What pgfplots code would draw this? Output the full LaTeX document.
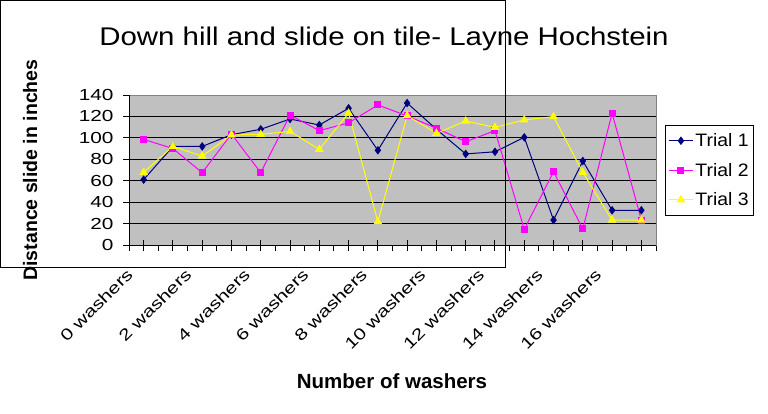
\documentclass[border=0pt]{standalone}
\usepackage{pgfplots}
\pgfplotsset{compat=1.18}
\usepackage{pgfplotstable}
\usepackage{fontspec}
\setmainfont{Liberation Sans}
\newfontfamily\tickfont{Liberation Sans}[FakeStretch=1.3]
\newfontfamily\titlefont{Liberation Sans}[FakeStretch=1.15]
\newfontfamily\legfont{Liberation Sans}[FakeStretch=1.08]
\definecolor{plotgray}{RGB}{192,192,192}
\definecolor{navyc}{RGB}{0,0,128}
\definecolor{magc}{RGB}{255,0,255}
\definecolor{yelc}{RGB}{255,255,0}
\definecolor{framegray}{RGB}{128,128,128}

\pgfplotstableread{
x t1 t2 t3
0 61 98.6 67.8
1 92 90 92
2 92 67.5 83
3 103 103.6 102.7
4 108 67.5 103.3
5 117.6 121.3 106
6 112 106.7 89.3
7 127.6 114 123
8 88.4 130.7 21.8
9 132.5 120.5 120.7
10 108 109 104.2
11 85 96.4 115.7
12 87 106.7 109.8
13 100.5 14.6 116.7
14 23.3 68.4 119.8
15 78.4 15 67.8
16 32.4 123 23.3
17 32.4 23.3 23.3
}\datatable

\begin{document}
\begin{tikzpicture}[x=1bp,y=1bp]
\path[use as bounding box] (0,0) rectangle (768,413);
\begin{axis}[
  at={(129bp,168bp)}, anchor=south west,
  width=527bp, height=150bp, scale only axis,
  xmin=-0.5, xmax=17.5, ymin=0, ymax=140,
  axis background/.style={fill=plotgray},
  axis line style={draw=framegray, line width=1bp},
  ytick={0,20,...,120},
  extra y ticks={140},
  extra y tick style={grid=none},
  ymajorgrids,
  grid style={black, line width=1bp},
  tick style={black, line width=1bp},
  major tick length=6bp,
  tick align=outside,
  xtick pos=bottom, ytick pos=left,
  xtick={-0.5,0.5,...,17.5}, xticklabels={},
  extra x ticks={0,1,...,17},
  extra x tick labels={0 washers,,2 washers,,4 washers,,6 washers,,8 washers,,10 washers,,12 washers,,14 washers,,16 washers,},
  extra x tick style={major tick length=11bp, tick align=center, grid=none},
  /pgf/number format/assume math mode=true,
  yticklabel style={font=\tickfont\fontsize{16bp}{19bp}\selectfont, anchor=east, xshift=-6bp},
  xticklabel style={font=\tickfont\fontsize{16bp}{19bp}\selectfont, xshift=-18bp, yshift=-12bp, rotate=45, anchor=north east},
  legend style={at={(axis description cs:1.017,0.8)}, anchor=north west,
    draw=black, fill=white, line width=1bp,
    font=\legfont\fontsize{18bp}{21bp}\selectfont,
    inner xsep=3bp, inner ysep=6bp, row sep=11bp},
  legend cell align=left,
  legend image code/.code={\draw[#1, mark=none] (0bp,0bp) -- (24bp,0bp);\draw[#1, only marks] plot coordinates {(12bp,0bp)};},
]
\addplot[navyc, line width=1bp, mark=diamond*, mark size=3.5bp, mark options={fill=navyc, draw=navyc}] table[x=x,y=t1]{\datatable};
\addlegendentry{Trial 1}
\addplot[magc, line width=1bp, mark=square*, mark size=3bp, mark options={fill=magc, draw=magc}] table[x=x,y=t2]{\datatable};
\addlegendentry{Trial 2}
\addplot[yelc, line width=1bp, mark=triangle*, mark size=4bp, mark options={fill=yelc, draw=yelc}] table[x=x,y=t3]{\datatable};
\addlegendentry{Trial 3}
\draw[black, line width=1bp] (rel axis cs:0,1) -- (rel axis cs:0,0) -- (rel axis cs:1,0);
\end{axis}
\node[anchor=base, font=\titlefont\fontsize{25.6bp}{30bp}\selectfont] at (384,368) {Down hill and slide on tile- Layne Hochstein};
\node[anchor=base, rotate=90, font=\bfseries\fontsize{19.5bp}{23bp}\selectfont] at (37,243) {Distance slide in inches};
\node[anchor=base, font=\bfseries\fontsize{20.5bp}{24bp}\selectfont] at (392,25) {Number of washers};
\draw[black, line width=1bp] (0.5,412.5) rectangle (505,146);
\end{tikzpicture}
\end{document}
